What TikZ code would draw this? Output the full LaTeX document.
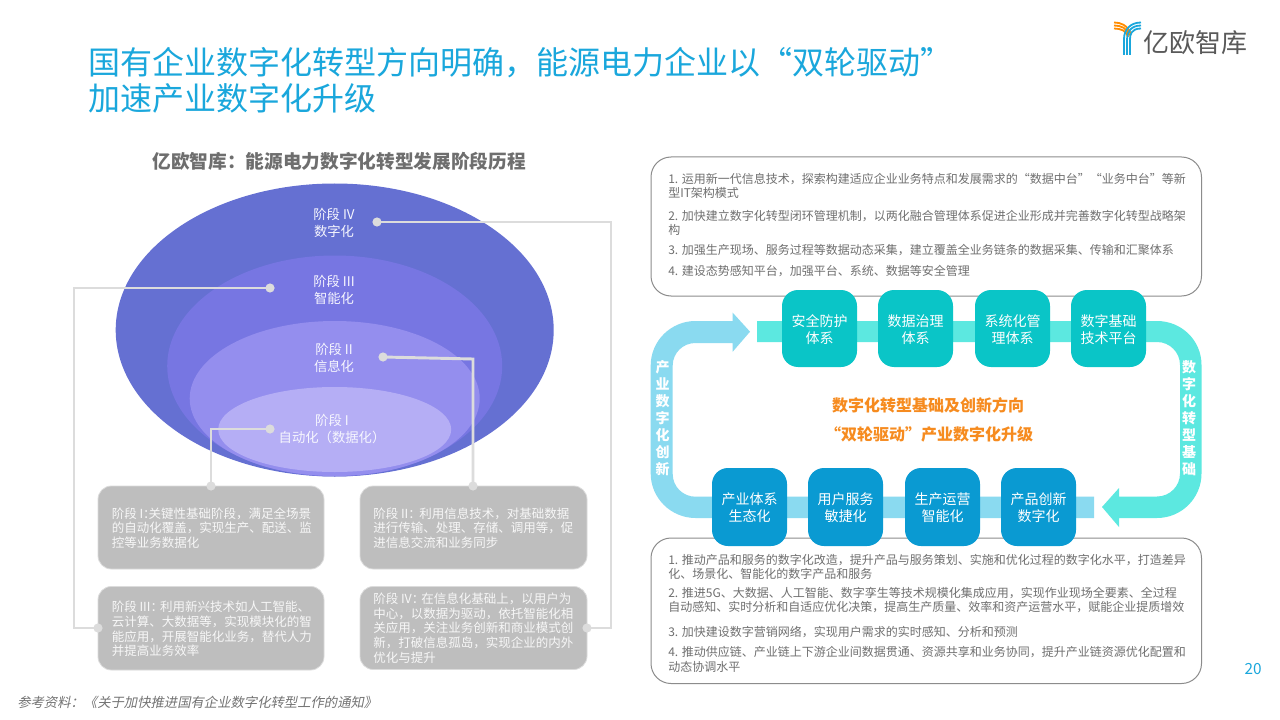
\documentclass[tikz,border=0pt]{standalone}
\usepackage{fontspec}
\setmainfont{Noto Sans CJK SC}
\newfontfamily\slantcjk[FakeSlant=0.2]{Noto Sans CJK SC}
\definecolor{titleblue}{HTML}{1AA7DC}
\definecolor{subgray}{HTML}{6E6E6E}
\definecolor{bodygray}{HTML}{6F6F6F}
\definecolor{ellA}{HTML}{6570D2}
\definecolor{ellB}{HTML}{7776E2}
\definecolor{ellC}{HTML}{948EEE}
\definecolor{ellD}{HTML}{B5AEF5}
\definecolor{boxgray}{HTML}{BEBEBE}
\definecolor{linkgray}{HTML}{DCDCDC}
\definecolor{tealband}{HTML}{5CE8E0}
\definecolor{blueband}{HTML}{8ADAF0}
\definecolor{tealbox}{HTML}{0AC5C7}
\definecolor{bluebox}{HTML}{0A9AD2}
\definecolor{orangetxt}{HTML}{F68B1F}
\definecolor{panelline}{HTML}{8C8C8C}
\tikzset{
  stagetxt/.style={text=white!92!ellC,inner sep=0pt,align=center,font=\fontsize{10pt}{12.4pt}\selectfont},
  graybox/.style={fill=boxgray,draw=linkgray,line width=0.6pt,rounded corners=10pt},
  boxtxt/.style={anchor=west,inner sep=0pt,align=left,text=white!88!boxgray,font=\fontsize{9.375pt}{11pt}\selectfont},
  panelbox/.style={draw=panelline,fill=white,line width=0.75pt,rounded corners=15pt},
  paneltxt/.style={anchor=west,inner sep=0pt,align=left,text=bodygray,font=\fontsize{9pt}{11pt}\selectfont},
  tealsq/.style={fill=tealbox,rounded corners=12pt},
  bluesq/.style={fill=bluebox,rounded corners=12pt},
  sqtxt/.style={text=white,inner sep=0pt,align=center,font=\fontsize{10.5pt}{12.75pt}\selectfont},
  vertxt/.style={text=white,inner sep=0pt,align=center,font=\fontsize{10.5pt}{12.75pt}\selectfont\bfseries},
  centertxt/.style={text=orangetxt,inner sep=0pt,font=\fontsize{12pt}{14pt}\selectfont\bfseries},
  linkline/.style={draw=linkgray,line width=2.2pt},
  linkdot/.style={circle,fill=linkgray,inner sep=0pt,minimum size=6.9pt}
}
\begin{document}
\begin{tikzpicture}[x=0.75pt,y=-0.75pt]
\useasboundingbox (0,0) rectangle (1280,720);
\fill[white] (0,0) rectangle (1280,720);

% title
\node[anchor=west,inner sep=0pt,text=titleblue,font=\fontsize{24pt}{26pt}\selectfont] (title1) at (88,63) {国有企业数字化转型方向明确，能源电力企业以“双轮驱动”};
\node[anchor=west,inner sep=0pt,text=titleblue,font=\fontsize{24pt}{26pt}\selectfont] (title2) at (88,98) {加速产业数字化升级};
\node[inner sep=0pt,text=subgray,font=\fontsize{14pt}{16pt}\selectfont\bfseries] (subtitle) at (339,161) {亿欧智库：能源电力数字化转型发展阶段历程};

% logo
\begin{scope}[line width=1.35pt]
\foreach \d in {0,3,6}{
  \draw[orange!90!yellow] (1114,22.5+\d) .. controls (1121,22.5+\d) and (1127,25+\d) .. (1131-\d/2,34+\d/2);
}
\foreach \d in {0,3,6}{
  \draw[titleblue] (1141,22.5+\d) .. controls (1131,22.5+\d) and (1124+\d,29+\d) .. (1124+\d,39) -- (1124+\d,55);
}
\end{scope}
\node[anchor=west,inner sep=0pt,text=black!65,font=\fontsize{19.5pt}{22pt}\selectfont] (logotxt) at (1143,43) {亿欧智库};

% ellipses
\fill[ellA] (334.7,330) ellipse [x radius=219,y radius=146.5];
\fill[ellB] (334.7,366) ellipse [x radius=167.5,y radius=110.5];
\fill[ellC] (334.7,398.5) ellipse [x radius=145,y radius=77.5];
\fill[ellD] (334.7,429.5) ellipse [x radius=116.5,y radius=42.5];

\node[stagetxt] (s4) at (334,223) {阶段 IV\\数字化};
\node[stagetxt] (s3) at (334,290) {阶段 III\\智能化};
\node[stagetxt] (s2) at (334,358) {阶段 II\\信息化};
\node[stagetxt] (s1) at (332,429) {阶段 I\\自动化（数据化）};

% stage boxes
\draw[graybox] (98,486) rectangle (324,569);
\draw[graybox] (360,486) rectangle (587,569);
\draw[graybox] (98,586.5) rectangle (324,670);
\draw[graybox] (360,586.5) rectangle (587,669.5);
\node[boxtxt] (b1) at (111.5,528) {阶段 I：\kern-0.56em 关键性基础阶段，满足全场景\\的自动化覆盖，实现生产、配送、监\\控等业务数据化};
\node[boxtxt] (b2) at (373,528) {阶段 II：\kern-0.12em 利用信息技术，对基础数据\\进行传输、处理、存储、调用等，促\\进信息交流和业务同步};
\node[boxtxt] (b3) at (111.5,629) {阶段 III：\kern-0.24em 利用新兴技术如人工智能、\\云计算、大数据等，实现模块化的智\\能应用，开展智能化业务，替代人力\\并提高业务效率};
\node[boxtxt] (b4) at (373,628) {阶段 IV：\kern-0.24em 在信息化基础上，以用户为\\中心，以数据为驱动，依托智能化相\\关应用，关注业务创新和商业模式创\\新，打破信息孤岛，实现企业的内外\\优化与提升};

% connectors
\coordinate (c2) at (473,359);
\coordinate (c3) at (74,288);
\coordinate (c3l) at (74,628);
\coordinate (c4) at (611,222);
\coordinate (c4l) at (611,628);
\node[linkdot] (d1a) at (270,429) {};
\node[linkdot] (d1b) at (211,486) {};
\node[linkdot] (d2a) at (383,357) {};
\node[linkdot] (d2b) at (473,486) {};
\node[linkdot] (d3a) at (270,288) {};
\node[linkdot] (d3b) at (98,628) {};
\node[linkdot] (d4a) at (377,222) {};
\node[linkdot] (d4b) at (587,628) {};
\draw[linkline] (d1a.center) -| (d1b.center);
\draw[linkline] (d2a.center) -- (c2) -- (d2b.center);
\draw[linkline] (d3a.center) -- (c3) -- (c3l) -- (d3b.center);
\draw[linkline] (d4a.center) -- (c4) -- (c4l) -- (d4b.center);

% panels
\draw[panelbox] (651,157) rectangle (1201.5,296);
\draw[panelbox] (651,538) rectangle (1201.5,683.5);
\node[paneltxt] (p1) at (668,186) {1. 运用新一代信息技术，探索构建适应企业业务特点和发展需求的“数据中台”“业务中台”等新\\型IT架构模式};
\node[paneltxt] (p2) at (668,223) {2. 加快建立数字化转型闭环管理机制，以两化融合管理体系促进企业形成并完善数字化转型战略架\\构};
\node[paneltxt] (p3) at (668,250) {3. 加强生产现场、服务过程等数据动态采集，建立覆盖全业务链条的数据采集、传输和汇聚体系};
\node[paneltxt] (p4) at (668,271.5) {4. 建设态势感知平台，加强平台、系统、数据等安全管理};
\node[paneltxt] (q1) at (668,567) {1. 推动产品和服务的数字化改造，提升产品与服务策划、实施和优化过程的数字化水平，打造差异\\化、场景化、智能化的数字产品和服务};
\node[paneltxt] (q2) at (668,600) {2. 推进5G、大数据、人工智能、数字孪生等技术规模化集成应用，实现作业现场全要素、全过程\\自动感知、实时分析和自适应优化决策，提高生产质量、效率和资产运营水平，赋能企业提质增效};
\node[paneltxt] (q3) at (668,632) {3. 加快建设数字营销网络，实现用户需求的实时感知、分析和预测};
\node[paneltxt] (q4) at (668,659.5) {4. 推动供应链、产业链上下游企业间数据贯通、资源共享和业务协同，提升产业链资源优化配置和\\动态协调水平};

% bands
\fill[tealband] (757,321) -- (1157,321) .. controls (1181.6,321) and (1201.5,340.4) .. (1201.5,365)
  -- (1201.5,473.5) .. controls (1201.5,498) and (1181.6,518) .. (1157,518)
  -- (1119,518) -- (1119,527) -- (1102,507) -- (1119,488) -- (1119,496.5) -- (1157,496.5)
  .. controls (1169.7,496.5) and (1180,486.2) .. (1180,473.5)
  -- (1180,365) .. controls (1180,352.3) and (1169.7,342) .. (1157,342) -- (757,342) -- cycle;
\fill[blueband] (1094,518) -- (695.5,518) .. controls (670.9,518) and (650.7,498) .. (650.7,473.5)
  -- (650.7,365.5) .. controls (650.7,340.9) and (670.9,321) .. (695.5,321)
  -- (732.7,321) -- (732.7,312.7) -- (750,331.7) -- (732.7,351.7) -- (732.7,343) -- (695.5,343)
  .. controls (682.9,343) and (672.7,353) .. (672.7,365.5)
  -- (672.7,474) .. controls (672.7,486.6) and (682.9,496.7) .. (695.5,496.7)
  -- (1094,496.7) -- cycle;

\node[vertxt] (vl) at (662.7,418) {产\\业\\数\\字\\化\\创\\新};
\node[vertxt] (vr) at (1189,418) {数\\字\\化\\转\\型\\基\\础};

% squares
\fill[tealsq] (782,290) rectangle (857,367);
\fill[tealsq] (878,290) rectangle (953,367);
\fill[tealsq] (975,290) rectangle (1050,367);
\fill[tealsq] (1071,290) rectangle (1146,367);
\fill[bluesq] (712,468) rectangle (787,546);
\fill[bluesq] (808,468) rectangle (883,546);
\fill[bluesq] (905,468) rectangle (980,546);
\fill[bluesq] (1001,468) rectangle (1076,546);
\node[sqtxt] (t1) at (819.5,329.5) {安全防护\\体系};
\node[sqtxt] (t2) at (915.5,329.5) {数据治理\\体系};
\node[sqtxt] (t3) at (1012.5,329.5) {系统化管\\理体系};
\node[sqtxt] (t4) at (1108.5,329.5) {数字基础\\技术平台};
\node[sqtxt] (u1) at (749.5,508) {产业体系\\生态化};
\node[sqtxt] (u2) at (845.5,508) {用户服务\\敏捷化};
\node[sqtxt] (u3) at (942.5,508) {生产运营\\智能化};
\node[sqtxt] (u4) at (1038.5,508) {产品创新\\数字化};

\node[centertxt] (m1) at (928,405.5) {数字化转型基础及创新方向};
\node[centertxt] (m2) at (929,434) {“双轮驱动”产业数字化升级};

% footer
\node[inner sep=0pt,text=titleblue,font=\fontsize{11.5pt}{13pt}\selectfont] (pageno) at (1253,669) {20};
\node[anchor=west,inner sep=0pt,text=black!55,font=\fontsize{10pt}{12pt}\selectfont\slantcjk] (src) at (17,702) {参考资料：《关于加快推进国有企业数字化转型工作的通知》};
\end{tikzpicture}
\end{document}
